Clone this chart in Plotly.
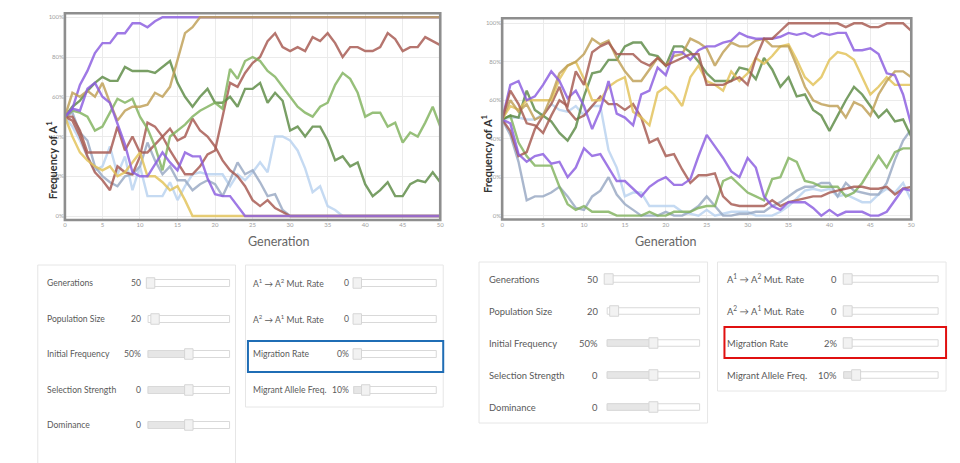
import plotly.graph_objects as go

W, H = 960, 463

# ---------------- data ----------------
generations = list(range(51))
tick_gens = [0, 5, 10, 15, 20, 25, 30, 35, 40, 45, 50]
tick_pct = [0, 20, 40, 60, 80, 100]
tick_pct_text = ["0%", "20%", "40%", "60%", "80%", "100%"]

# Left simulation (migration rate 0%)
L_light_blue = [50,45,38,30,23,25,35,21,30,13,25,10,10,10,17,8,15,21,22,21,21,21,15,21,18,22,27,22,40,40,38,33,24,12,15,5,3] + [0]*14
L_gray_blue = [50,52,42,38,25,20,17,15,20,21,25,37,28,21,25,18,18,13,16,18,16,10,18,27,21,23,17,10,11,3] + [0]*21
L_brown_b = [50,50,43,32,32,32,32,45,33,40,32,32,36,40,44,38,40,49,43,40,35,28,23,20,15,8,5,8,4,2] + [0]*21
L_brown_a = [50,48,40,30,22,18,13,25,22,21,30,47,45,40,33,27,21,21,25,31,33,50,67,65,72,77,80,88,92,85,83,85,83,90,88,92,87,80,85,85,83,83,85,92,89,83,85,85,90,88,86]
L_dark_green = [50,55,58,63,67,70,68,68,75,73,73,73,72,75,78,67,60,55,60,64,57,57,60,55,64,64,67,57,62,58,43,45,40,45,45,38,28,30,25,27,16,10,13,17,10,10,16,18,17,22,17]
L_light_green = [50,53,52,50,43,45,52,59,57,59,50,44,35,23,40,43,46,50,53,55,57,54,74,69,78,80,78,73,70,65,60,55,52,50,55,57,66,72,69,62,50,52,52,45,47,37,42,40,47,55,45]
L_yellow = [50,40,32,28,25,23,25,20,22,27,32,20,20,17,13,15,8] + [0]*34
L_purple_a = [50,54,66,73,82,87,87,92,92,97,97,95,98] + [100]*38
L_tan = [50,62,60,63,60,67,57,48,53,55,55,56,62,60,65,78,92,95] + [100]*33
L_purple_b = [50,54,53,64,67,60,57,47,36,22,20,20,26,32,27,23,32,30,30,19,11,10,10,5] + [0]*27

# Right simulation (migration rate 2%)
R_light_blue = [50,51,51,50,50,53,58,55,54,57,52,57,57,34,25,10,12,12,5,5,5,5,2,1,0,3,0,1,2,2,2,0,0,0,2,5,9,13,14,13,14,10,11,9,7,7,11,14,12,17,8]
R_gray_blue = [50,42,28,8,10,10,12,15,10,4,3,10,13,20,11,6,3,0,0,0,2,0,0,2,5,10,5,0,0,1,1,2,2,5,7,10,13,15,15,17,17,10,17,13,12,11,11,17,29,39,45]
R_brown_b = [50,44,31,33,45,52,58,67,55,50,52,57,62,58,58,55,58,51,38,40,31,32,24,17,21,21,22,10,6,5,5,5,5,8,5,7,8,9,10,10,12,13,14,15,15,14,14,15,11,14,15]
R_brown_a = [50,65,58,48,47,43,52,60,57,75,68,85,88,90,84,84,84,80,78,82,78,80,82,84,84,68,68,68,70,72,68,82,92,92,96,100,100,100,100,100,100,100,98,100,100,98,98,100,100,100,96]
R_dark_green = [50,52,51,65,55,52,49,43,39,46,62,74,75,81,81,88,90,90,84,83,78,88,88,85,80,74,70,70,70,77,76,71,82,76,67,72,62,63,55,52,44,52,60,67,63,57,51,55,49,50,41]
R_light_green = [50,52,38,31,26,26,26,15,6,3,5,2,2,2,0,0,0,0,2,0,0,2,2,2,4,5,5,18,20,16,12,10,8,19,20,30,28,18,17,15,15,15,10,12,17,24,31,25,33,35,35]
R_yellow = [50,57,55,60,60,60,60,71,78,80,71,60,60,67,70,72,54,51,47,64,67,63,57,72,78,70,68,65,75,70,74,82,79,83,88,89,81,72,68,72,81,85,84,81,72,63,67,72,68,68,68]
R_tan = [50,60,54,58,50,52,62,74,78,80,84,92,89,91,82,75,70,70,76,82,78,83,84,92,90,87,78,85,90,88,88,91,92,88,88,88,78,67,60,58,57,57,51,59,57,52,63,70,75,75,72]
R_purple_a = [50,68,70,60,62,68,75,70,61,65,57,45,55,70,53,51,47,63,65,77,73,85,85,81,86,88,88,90,91,95,93,92,92,92,93,95,94,95,93,95,94,95,95,86,86,87,84,74,73,63,47]
R_purple_b = [50,48,32,28,31,32,27,28,20,25,35,31,32,25,18,18,14,10,15,18,20,16,16,19,31,42,36,30,23,20,30,25,10,5,3,7,7,7,4,0,3,0,2,2,2,0,0,2,8,14,13]

# control panel texts
ctrl_labels = ["Generations", "Population Size", "Initial Frequency", "Selection Strength", "Dominance"]
ctrl_values = ["50", "20", "50%", "0", "0"]
mut_labels = ["A<sup>1</sup> → A<sup>2</sup> Mut. Rate", "A<sup>2</sup> → A<sup>1</sup> Mut. Rate",
              "Migration Rate", "Migrant Allele Freq."]
mut_values_left = ["0", "0", "0%", "10%"]
mut_values_right = ["0", "0", "2%", "10%"]

# ---------------- styles ----------------
C_PURPLE = "#8a5ce0"
C_TAN = "#bf9f55"
C_YELLOW = "#e2c258"
C_BROWN = "#a65a50"
C_DGREEN = "#5c8a46"
C_LGREEN = "#82b25e"
C_LBLUE = "#b9d2f0"
C_GBLUE = "#98a9c4"

left_series = [
    (L_light_blue, C_LBLUE), (L_gray_blue, C_GBLUE), (L_brown_b, C_BROWN), (L_brown_a, C_BROWN),
    (L_dark_green, C_DGREEN), (L_light_green, C_LGREEN), (L_yellow, C_YELLOW),
    (L_purple_a, C_PURPLE), (L_tan, C_TAN), (L_purple_b, C_PURPLE),
]
right_series = [
    (R_light_blue, C_LBLUE), (R_gray_blue, C_GBLUE), (R_light_green, C_LGREEN), (R_brown_b, C_BROWN),
    (R_purple_b, C_PURPLE), (R_dark_green, C_DGREEN), (R_yellow, C_YELLOW), (R_tan, C_TAN),
    (R_purple_a, C_PURPLE), (R_brown_a, C_BROWN),
]

FONT = "Lato, 'Open Sans', sans-serif"

def fx(p):
    return p / W

def fy(p):
    return 1 - p / H

fig = go.Figure()
for vals, col in left_series:
    fig.add_trace(go.Scatter(x=generations, y=vals, mode="lines", xaxis="x", yaxis="y",
                             line=dict(color=col, width=2.4), opacity=0.82,
                             hoverinfo="skip", showlegend=False))
for vals, col in right_series:
    fig.add_trace(go.Scatter(x=generations, y=vals, mode="lines", xaxis="x2", yaxis="y2",
                             line=dict(color=col, width=2.4), opacity=0.82,
                             hoverinfo="skip", showlegend=False))

axis_common = dict(showgrid=True, gridcolor="#ebebeb", gridwidth=1, zeroline=False,
                   showline=False, ticks="", tickfont=dict(size=6, color="#a0a0a0", family=FONT))

fig.update_layout(
    width=W, height=H, margin=dict(l=0, r=0, t=0, b=0),
    paper_bgcolor="white", plot_bgcolor="white", showlegend=False,
    font=dict(family=FONT),
    xaxis=dict(domain=[fx(63.3), fx(441)], range=[0, 50], tickvals=tick_gens,
               anchor="y", **axis_common),
    yaxis=dict(domain=[fy(220), fy(13.3)], range=[-2, 102], tickvals=tick_pct,
               ticktext=tick_pct_text, anchor="x", **axis_common),
    xaxis2=dict(domain=[fx(503.3), fx(915)], range=[0, 50], tickvals=tick_gens,
                anchor="y2", **axis_common),
    yaxis2=dict(domain=[fy(219.5), fy(18.3)], range=[-2, 102.6], tickvals=tick_pct,
                ticktext=tick_pct_text, anchor="x2", **axis_common),
)

shapes = []
annotations = []

# chart frames
for xr, yr in (("x domain", "y domain"), ("x2 domain", "y2 domain")):
    shapes.append(dict(type="rect", xref=xr, yref=yr, x0=0, x1=1, y0=0, y1=1,
                       line=dict(color="#8e8e8e", width=2.6), layer="above"))

# axis titles
for xc, yc in ((40, 119), (487, 113)):
    annotations.append(dict(xref="paper", yref="paper", x=fx(xc), y=fy(yc),
                            text="<b>Frequency of A<sup>1</sup></b>", textangle=-90,
                            showarrow=False, font=dict(size=11, color="#333333", family=FONT)))
for xc, yc in ((246, 242), (701, 241.5)):
    annotations.append(dict(xref="paper", yref="paper", x=fx(xc), y=fy(yc),
                            text="Generation", showarrow=False,
                            font=dict(size=12.5, color="#666666", family=FONT)))


def panel(box, label_x, value_r, track, rows, labels, values, handles, fills, fsize, th, hw, hh):
    x0, y0, x1, y1 = box
    shapes.append(dict(type="rect", xref="paper", yref="paper", x0=fx(x0), x1=fx(x1),
                       y0=fy(y1), y1=fy(y0), line=dict(color="#e6e6e6", width=1),
                       fillcolor="white", layer="below"))
    for ry, lab, val, hx, fill in zip(rows, labels, values, handles, fills):
        annotations.append(dict(xref="paper", yref="paper", x=fx(label_x), y=fy(ry),
                                xanchor="left", yanchor="middle", text=lab, showarrow=False,
                                font=dict(size=fsize, color="#5a5a5a", family=FONT)))
        annotations.append(dict(xref="paper", yref="paper", x=fx(value_r), y=fy(ry),
                                xanchor="right", yanchor="middle", text=val, showarrow=False,
                                font=dict(size=fsize, color="#5a5a5a", family=FONT)))
        shapes.append(dict(type="rect", xref="paper", yref="paper", x0=fx(track[0]), x1=fx(track[1]),
                           y0=fy(ry + th / 2), y1=fy(ry - th / 2),
                           line=dict(color="#d9d9d9", width=1), fillcolor="white"))
        if fill:
            shapes.append(dict(type="rect", xref="paper", yref="paper", x0=fx(track[0]), x1=fx(hx),
                               y0=fy(ry + th / 2), y1=fy(ry - th / 2),
                               line=dict(color="#d9d9d9", width=1), fillcolor="#e6e6e6"))
        shapes.append(dict(type="rect", xref="paper", yref="paper", x0=fx(hx - hw / 2), x1=fx(hx + hw / 2),
                           y0=fy(ry + hh / 2), y1=fy(ry - hh / 2),
                           line=dict(color="#d6d6d6", width=1), fillcolor="#f2f2f2"))


# left control panels
panel((36, 265, 235, 480), 43, 142, (147, 229), [283, 319, 354, 390, 425],
      ctrl_labels, ctrl_values, [149.5, 154, 188, 188, 188], [False, False, True, True, True],
      8.6, 7, 8.5, 10.5)
panel((245, 265, 444, 407), 251, 351, (354, 437), [283, 319, 354, 390],
      mut_labels, mut_values_left, [357.5, 357.5, 357.5, 366], [False, False, False, True],
      8.6, 7, 8.5, 10.5)
shapes.append(dict(type="rect", xref="paper", yref="paper", x0=fx(247.5), x1=fx(444),
                   y0=fy(372), y1=fy(341), line=dict(color="#1f6db5", width=2)))

# right control panels
panel((480, 262, 710, 423), 488, 602, (609, 702), [279, 311, 343, 375, 407],
      ctrl_labels, ctrl_values, [610.5, 616, 655.5, 655.5, 655.5], [False, False, True, True, True],
      9.4, 6.5, 9, 10.5)
panel((720, 262, 950, 391), 728, 842, (847, 942), [279, 311, 343, 375],
      mut_labels, mut_values_right, [851, 851, 851, 859.5], [False, False, False, True],
      9.4, 6.5, 9, 10.5)
shapes.append(dict(type="rect", xref="paper", yref="paper", x0=fx(727), x1=fx(950),
                   y0=fy(358), y1=fy(327), line=dict(color="#e01010", width=2)))

fig.update_layout(shapes=shapes, annotations=annotations)
fig.write_html("out.html", config={"displayModeBar": False},
               post_script="document.body.style.margin='0';document.body.style.padding='0';"
                           "document.documentElement.style.overflow='hidden';")
